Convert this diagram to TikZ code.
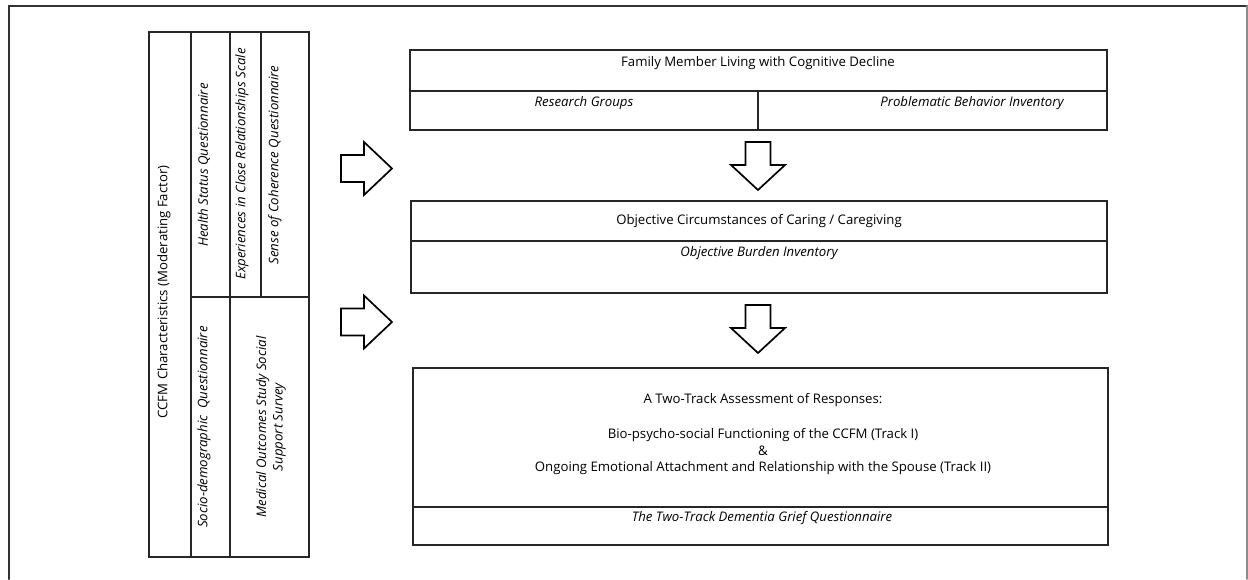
\documentclass[tikz,border=0pt]{standalone}
\usepackage{fontspec}
\setmainfont{Open Sans}
\usepackage{tikz}
\usetikzlibrary{positioning}

\begin{document}
\begin{tikzpicture}[x=1pt, y=-1pt, line cap=round, line join=miter,
        box/.style={draw=black!85, line width=1.4pt},
        lbl/.style={inner sep=0pt, font=\fontsize{13.2}{16.5}\selectfont, align=center},
        ilbl/.style={lbl, font=\fontsize{13.2}{16.5}\selectfont\itshape},
        vlbl/.style={lbl, rotate=90},
        vilbl/.style={ilbl, rotate=90},
        blk/.style={draw=black, line width=1.7pt, fill=white}]
        \useasboundingbox (0,0) rectangle (1248,579);

        % Outer frame
        \draw[black!80, line width=2pt] (9,579) -- (9,6) -- (1247,6);
        \draw[black!45, line width=1.5pt] (1247,6) -- (1247,579);

        % Left box: moderating factor
        \draw[box] (149,32) rectangle (309,557);
        \draw[box] (191,32) -- (191,557) (230,32) -- (230,557)
                   (261,32) -- (261,297) (191,297) -- (309,297);
        \node[vlbl]  (ccfm) at (164,292) {CCFM Characteristics (Moderating Factor)};
        \node[vilbl] (hsq)  at (204,165) {Health Status Questionnaire};
        \node[vilbl] (ecr)  at (242,164) {Experiences in Close Relationships Scale};
        \node[vilbl] (soc)  at (275,165) {Sense of Coherence Questionnaire};
        \node[vilbl] (sdq)  at (204,427) {Socio-demographic\ \ Questionnaire};
        \node[vilbl] (mos)  at (271,427) {Medical Outcomes Study Social\\Support Survey};

        % Right boxes
        \draw[box] (410,50) rectangle (1107,130);
        \draw[box] (410,91) -- (1107,91) (758,91) -- (758,130);
        \node[lbl]  (fam) at (758,63)  {Family Member Living with Cognitive Decline};
        \node[ilbl] (rg)  at (584,103) {Research Groups};
        \node[ilbl] (pbi) at (972,103) {Problematic Behavior Inventory};

        \draw[box] (411,201) rectangle (1107,293);
        \draw[box] (411,241) -- (1107,241);
        \node[lbl]  (occ) at (759,221) {Objective Circumstances of Caring / Caregiving};
        \node[ilbl] (obi) at (759,253) {Objective Burden Inventory};

        \draw[box] (413,368) rectangle (1108,545);
        \draw[box] (413,507) -- (1108,507);
        \node[lbl] (tta) at (763,434) {A Two-Track Assessment of Responses:\\[19pt]
                Bio-psycho-social Functioning of the CCFM (Track I)\\
                \&\\
                Ongoing Emotional Attachment and Relationship with the Spouse (Track II)};
        \node[ilbl] (tdg) at (762,518) {The Two-Track Dementia Grief Questionnaire};

        % Block arrows to the right
        \coordinate (R1) at (341,168.5);
        \coordinate (R2) at (341,322);
        \foreach \p in {R1,R2}
            \draw[blk] (\p) ++(0,-13.5) -- ++(23,0) -- ++(0,-13) -- ++(28,26.5)
                -- ++(-28,26.5) -- ++(0,-13) -- ++(-23,0) -- cycle;

        % Block arrows downward
        \coordinate (D1) at (758,142);
        \coordinate (D2) at (758,305);
        \foreach \p in {D1,D2}
            \draw[blk] (\p) ++(-12.5,0) -- ++(0,23) -- ++(-14.5,0) -- ++(27,25)
                -- ++(27,-25) -- ++(-14.5,0) -- ++(0,-23) -- cycle;
    \end{tikzpicture}
\end{document}
